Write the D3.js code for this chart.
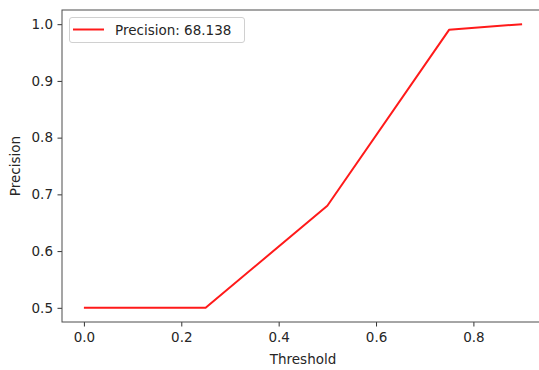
<!DOCTYPE html>
<html>
<head>
<meta charset="utf-8">
<script src="https://cdn.jsdelivr.net/npm/d3@7"></script>
<style>
  html, body { margin: 0; padding: 0; background: #fff; }
  svg { display: block; font-family: "DejaVu Sans", sans-serif; }
</style>
</head>
<body>
<svg id="chart" width="539" height="370"></svg>
<script>
const thresholds = [0.0, 0.25, 0.5, 0.75, 0.9];
const precision = [0.5, 0.5, 0.68, 0.99, 1.0];
const xTicks = [0.0, 0.2, 0.4, 0.6, 0.8];
const yTicks = [0.5, 0.6, 0.7, 0.8, 0.9, 1.0];
const legendLabel = "Precision: 68.138";
const xLabel = "Threshold";
const yLabel = "Precision";

(function () {
const svg = d3.select("#chart");
const mLeft = 62, mRight = 544, mTop = 10, mBottom = 322;
const fs = "13.5px";

const xMin = d3.min(thresholds), xMax = d3.max(thresholds);
const xPad = (xMax - xMin) * 0.05;
const yMin = d3.min(precision), yMax = d3.max(precision);
const yPad = (yMax - yMin) * 0.05;

const x = d3.scaleLinear().domain([xMin - xPad, xMax + xPad]).range([mLeft, mRight]);
const y = d3.scaleLinear().domain([yMin - yPad, yMax + yPad]).range([mBottom, mTop]);

const line = d3.line().x((d, i) => x(thresholds[i])).y(d => y(d));
svg.append("path")
  .datum(precision)
  .attr("d", line)
  .attr("fill", "none")
  .attr("stroke", "#ff1a1a")
  .attr("stroke-width", 2)
  .attr("stroke-linejoin", "round");

const xAxis = d3.axisBottom(x).tickValues(xTicks).tickFormat(d3.format(".1f")).tickSize(4.5).tickPadding(6);
const yAxis = d3.axisLeft(y).tickValues(yTicks).tickFormat(d3.format(".1f")).tickSize(4.5).tickPadding(4.5);

const gx = svg.append("g").attr("transform", `translate(0,${mBottom})`).call(xAxis);
const gy = svg.append("g").attr("transform", `translate(${mLeft},0)`).call(yAxis);
[gx, gy].forEach(g => {
  g.select(".domain").remove();
  g.selectAll(".tick line").attr("stroke", "#333").attr("stroke-width", 1);
  g.selectAll(".tick text").attr("fill", "#262626").style("font-size", fs).style("font-family", "DejaVu Sans, sans-serif");
});

svg.append("rect")
  .attr("x", mLeft).attr("y", mTop)
  .attr("width", mRight - mLeft).attr("height", mBottom - mTop)
  .attr("fill", "none").attr("stroke", "#4d4d4d").attr("stroke-width", 1);

svg.append("text").attr("x", 303).attr("y", 364)
  .attr("text-anchor", "middle").attr("fill", "#262626")
  .style("font-size", fs).text(xLabel);
svg.append("text")
  .attr("transform", `translate(20,${(mTop + mBottom) / 2}) rotate(-90)`)
  .attr("text-anchor", "middle").attr("fill", "#262626")
  .style("font-size", fs).text(yLabel);

const lg = svg.append("g");
lg.append("rect").attr("x", 69.5).attr("y", 17.5).attr("width", 175).attr("height", 25)
  .attr("rx", 2.5).attr("fill", "#fff").attr("fill-opacity", 0.8)
  .attr("stroke", "#d0d0d0").attr("stroke-width", 1);
lg.append("line").attr("x1", 73).attr("x2", 104).attr("y1", 29.5).attr("y2", 29.5)
  .attr("stroke", "#ff1a1a").attr("stroke-width", 2);
lg.append("text").attr("x", 115).attr("y", 34.5).attr("fill", "#262626")
  .style("font-size", fs).text(legendLabel);
})();
</script>
</body>
</html>
